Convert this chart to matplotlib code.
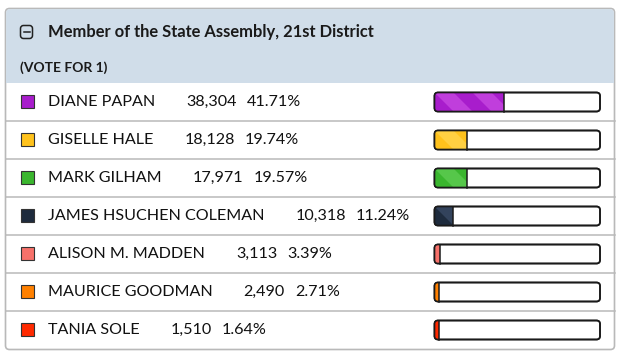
import matplotlib
matplotlib.use("Agg")
import matplotlib.pyplot as plt
from matplotlib.patches import FancyBboxPatch, Rectangle, Polygon

title = "Member of the State Assembly, 21st District"
subtitle = "(VOTE FOR 1)"
candidates = ["DIANE PAPAN", "GISELLE HALE", "MARK GILHAM", "JAMES HSUCHEN COLEMAN",
              "ALISON M. MADDEN", "MAURICE GOODMAN", "TANIA SOLE"]
votes = [38304, 18128, 17971, 10318, 3113, 2490, 1510]
percents = [41.71, 19.74, 19.57, 11.24, 3.39, 2.71, 1.64]
colors = ["#a81dcc", "#ffc21c", "#3ab62e", "#1e2b3d", "#f7716a", "#ff8000", "#ff2a00"]
stripe_colors = ["#c03edc", "#ffd042", "#56c74a", "#33435c", "#f7716a", "#ff8000", "#ff2a00"]

W, H = 631, 360
fig = plt.figure(figsize=(W / 100, H / 100), dpi=100)
ax = fig.add_axes([0, 0, 1, 1])
ax.set_xlim(0, W)
ax.set_ylim(H, 0)
ax.axis("off")

FONT = "Lato"
border = "#b9b9b9"
left, right, top, bottom = 5.5, 614.5, 8.5, 349.5
header_bottom = 83
row_h = 38

# panel
ax.add_patch(FancyBboxPatch((left, top), right - left, bottom - top,
                            boxstyle="round,pad=0,rounding_size=4",
                            fc="white", ec=border, lw=1.2, zorder=1))
ax.add_patch(FancyBboxPatch((left + 0.6, top + 0.6), right - left - 1.2, header_bottom - top - 0.6,
                            boxstyle="round,pad=0,rounding_size=4",
                            fc="#d0dde9", ec="none", zorder=2))
ax.add_patch(Rectangle((left + 0.6, header_bottom - 8), right - left - 1.2, 8,
                       fc="#d0dde9", ec="none", zorder=2))

# collapse icon
ax.add_patch(FancyBboxPatch((20.5, 25.5), 12, 13, boxstyle="round,pad=0,rounding_size=3",
                            fc="none", ec="#222222", lw=1.1, zorder=3))
ax.plot([23.5, 29.5], [32, 32], color="#222222", lw=1.1, zorder=4)

ax.text(48, 32, title, fontsize=11.9, fontweight="bold", family=FONT,
        color="#1a1a1a", va="center", ha="left", zorder=5)
ax.text(20, 68, subtitle, fontsize=10, fontweight="bold", family=FONT,
        color="#1a1a1a", va="center", ha="left", zorder=5)

fig.canvas.draw()
renderer = fig.canvas.get_renderer()
inv = ax.transData.inverted()

bar_x0, bar_x1 = 434.5, 600
bar_w = bar_x1 - bar_x0
bar_h = 19
fs = 11.6

for i, (name, v, p, c, sc) in enumerate(zip(candidates, votes, percents, colors, stripe_colors)):
    yc = header_bottom + row_h * i + row_h / 2
    if i > 0:
        ax.plot([left, right], [header_bottom + row_h * i] * 2, color=border, lw=1.1, zorder=3)
    ax.add_patch(Rectangle((20.5, yc - 7), 13, 13, fc=c, ec="#333333", lw=0.8, zorder=4))
    t1 = ax.text(48, yc, name, fontsize=fs, family=FONT, color="#111111",
                 va="center", ha="left", zorder=5)
    ext = t1.get_window_extent(renderer)
    x_end = inv.transform((ext.x1, ext.y0))[0]
    t2 = ax.text(x_end + 31, yc, f"{v:,}", fontsize=fs, family=FONT, color="#111111",
                 va="center", ha="left", zorder=5)
    ext2 = t2.get_window_extent(renderer)
    x_end2 = inv.transform((ext2.x1, ext2.y0))[0]
    ax.text(x_end2 + 10, yc, f"{p:.2f}%", fontsize=fs, family=FONT, color="#111111",
            va="center", ha="left", zorder=5)

    # bar
    by = yc - bar_h / 2
    outline = FancyBboxPatch((bar_x0, by), bar_w, bar_h,
                             boxstyle="round,pad=0,rounding_size=3.5",
                             fc="white", ec="#1a1a1a", lw=1.2, zorder=6)
    ax.add_patch(outline)
    fw = max(bar_w * p / 100, 4.5)
    fill = Rectangle((bar_x0, by), fw, bar_h, fc=c, ec="none", zorder=7)
    ax.add_patch(fill)
    fill.set_clip_path(outline)
    # diagonal stripes
    k = 0
    sx = bar_x0 - bar_h
    while sx < bar_x0 + fw:
        if k % 2 == 1:
            poly = Polygon([(sx, by), (sx + 19, by), (sx + 19 + bar_h, by + bar_h), (sx + bar_h, by + bar_h)],
                           closed=True, fc=sc, ec="none", zorder=7.5)
            ax.add_patch(poly)
            clip = Rectangle((bar_x0, by), fw, bar_h, transform=ax.transData)
            poly.set_clip_path(clip)
        sx += 19
        k += 1
    ax.plot([bar_x0 + fw, bar_x0 + fw], [by, by + bar_h], color="#1a1a1a", lw=1.1, zorder=8)
    ax.add_patch(FancyBboxPatch((bar_x0, by), bar_w, bar_h,
                                boxstyle="round,pad=0,rounding_size=3.5",
                                fc="none", ec="#1a1a1a", lw=1.2, zorder=9))

fig.savefig("out.png", dpi=100)
